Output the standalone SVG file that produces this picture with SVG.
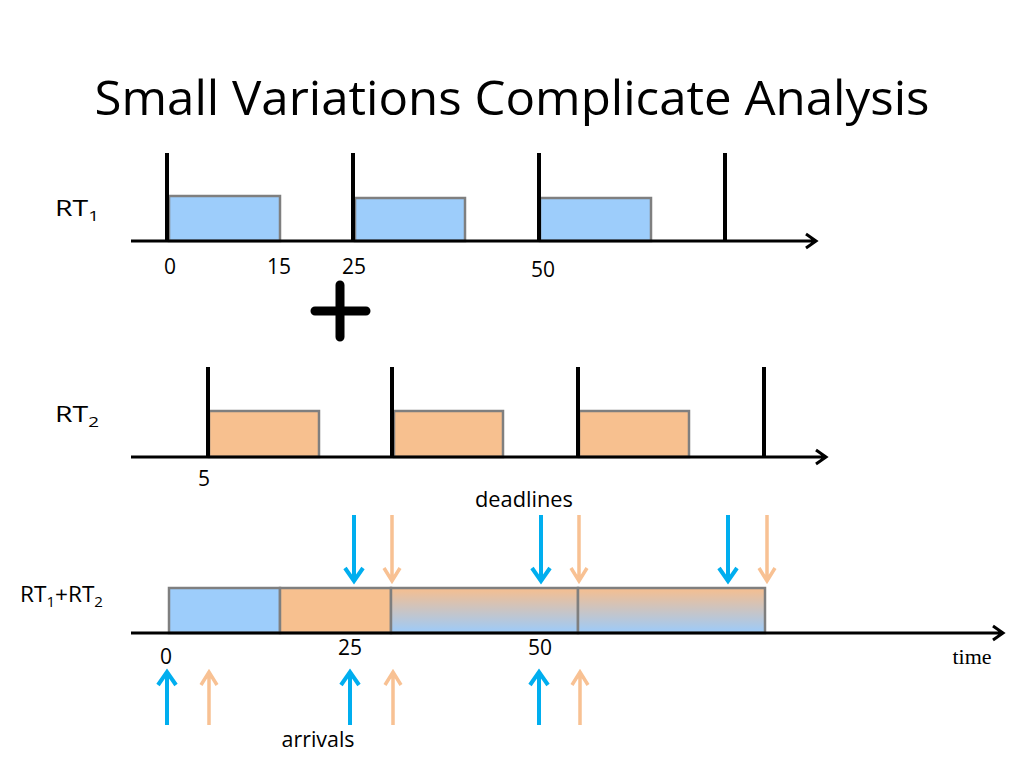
<svg xmlns="http://www.w3.org/2000/svg" width="1024" height="768" viewBox="0 0 1024 768">
<defs>
<linearGradient id="mix" x1="0" y1="0" x2="0" y2="1">
<stop offset="0" stop-color="#F6BE8F"/>
<stop offset="1" stop-color="#9CCBFA"/>
</linearGradient>
<style>
.t{font-family:"Open Sans","Liberation Sans",sans-serif;fill:#000}
.lbl{font-size:21px}
.sub{font-size:14px}
.axis{stroke:#000;stroke-width:3;fill:none}
.tick{stroke:#000;stroke-width:4}
.blue{fill:#9DCDFB;stroke:#7F7F7F;stroke-width:2.5}
.org{fill:#F7C08F;stroke:#7F7F7F;stroke-width:2.5}
.mix{fill:url(#mix);stroke:#7F7F7F;stroke-width:2.5}
.ab{stroke:#00AEEF;stroke-width:4;fill:none}
.ao{stroke:#F8C193;stroke-width:3.5;fill:none}
</style>
</defs>
<rect width="1024" height="768" fill="#fff"/>
<text class="t" x="512" y="115" font-size="47" text-anchor="middle" textLength="835" lengthAdjust="spacingAndGlyphs">Small Variations Complicate Analysis</text>

<g id="rt1">
<text class="t lbl" x="55" y="216" textLength="44" lengthAdjust="spacingAndGlyphs">RT<tspan class="sub" dy="5">1</tspan></text>
<rect class="blue" x="169" y="196" width="111" height="45"/>
<rect class="blue" x="355" y="198" width="110" height="43"/>
<rect class="blue" x="540" y="198" width="111" height="43"/>
<line class="tick" x1="167" y1="153" x2="167" y2="241"/>
<line class="tick" x1="353" y1="153" x2="353" y2="241"/>
<line class="tick" x1="539" y1="153" x2="539" y2="241"/>
<line class="tick" x1="725" y1="153" x2="725" y2="241"/>
<path class="axis" d="M131 241H816M806 234L816 241L806 248"/>
<text class="t lbl" x="170" y="274" text-anchor="middle">0</text>
<text class="t lbl" x="279" y="274" text-anchor="middle">15</text>
<text class="t lbl" x="354" y="274" text-anchor="middle">25</text>
<text class="t lbl" x="543" y="277" text-anchor="middle">50</text>
</g>

<g id="plus">
<path d="M340 285V337M315 311H366" stroke="#000" stroke-width="9" stroke-linecap="round"/>
</g>

<g id="rt2">
<text class="t lbl" x="55" y="422" textLength="44" lengthAdjust="spacingAndGlyphs">RT<tspan class="sub" dy="5">2</tspan></text>
<rect class="org" x="209" y="411" width="110" height="46"/>
<rect class="org" x="394" y="411" width="109" height="46"/>
<rect class="org" x="579" y="411" width="110" height="46"/>
<line class="tick" x1="208" y1="367" x2="208" y2="457"/>
<line class="tick" x1="392" y1="367" x2="392" y2="457"/>
<line class="tick" x1="578" y1="367" x2="578" y2="457"/>
<line class="tick" x1="764" y1="367" x2="764" y2="457"/>
<path class="axis" d="M131 457H826M816 450L826 457L816 464"/>
<text class="t lbl" x="204" y="486" text-anchor="middle">5</text>
</g>

<g id="combined">
<text class="t lbl" x="20" y="602" textLength="83" lengthAdjust="spacingAndGlyphs">RT<tspan class="sub" dy="5">1</tspan><tspan dy="-5">+RT</tspan><tspan class="sub" dy="5">2</tspan></text>
<rect class="blue" x="169" y="588" width="111" height="45"/>
<rect class="org" x="280" y="588" width="111" height="45"/>
<rect class="mix" x="391" y="588" width="187" height="45"/>
<rect class="mix" x="578" y="588" width="187" height="45"/>
<path class="axis" d="M131 633H1003M993 626L1003 633L993 640"/>
<text class="t lbl" x="166" y="664" text-anchor="middle">0</text>
<text class="t lbl" x="350" y="655" text-anchor="middle">25</text>
<text class="t lbl" x="540" y="655" text-anchor="middle">50</text>
<text x="972" y="664" font-family="Liberation Serif,serif" font-size="22" text-anchor="middle">time</text>
</g>

<g id="deadlines">
<text class="t lbl" x="524" y="507" text-anchor="middle" textLength="98" lengthAdjust="spacingAndGlyphs">deadlines</text>
<path class="ab" d="M354 515V581M345 568L354 581L363 568"/>
<path class="ao" d="M392 515V581M384 568L392 581L400 568"/>
<path class="ab" d="M541 515V581M532 568L541 581L550 568"/>
<path class="ao" d="M579 515V581M571 568L579 581L587 568"/>
<path class="ab" d="M728 515V581M719 568L728 581L737 568"/>
<path class="ao" d="M767 515V581M759 568L767 581L775 568"/>
</g>

<g id="arrivals">
<text class="t lbl" x="318" y="747" text-anchor="middle" textLength="73" lengthAdjust="spacingAndGlyphs">arrivals</text>
<path class="ab" d="M167 725V672M158 685L167 672L176 685"/>
<path class="ao" d="M209 725V672M201 685L209 672L217 685"/>
<path class="ab" d="M350 725V672M341 685L350 672L359 685"/>
<path class="ao" d="M393 725V672M385 685L393 672L401 685"/>
<path class="ab" d="M539 725V672M530 685L539 672L548 685"/>
<path class="ao" d="M580 725V672M572 685L580 672L588 685"/>
</g>
</svg>
